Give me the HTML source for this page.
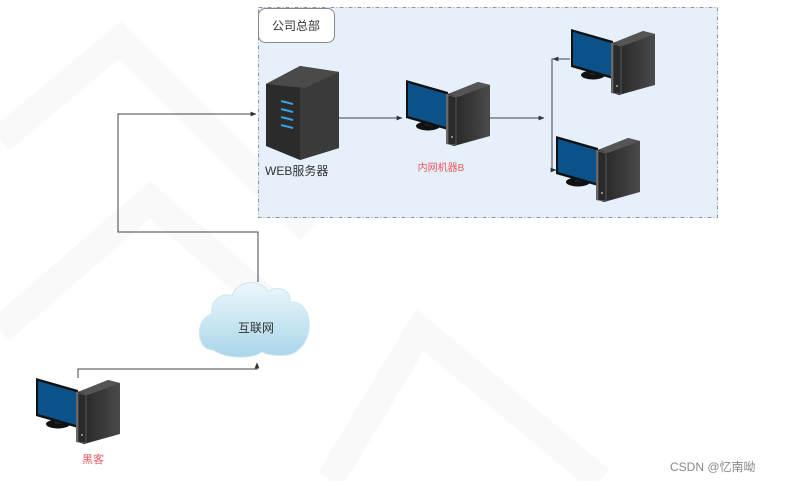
<!DOCTYPE html>
<html><head><meta charset="utf-8"><style>
body{margin:0;width:790px;height:481px;background:#fff;overflow:hidden;font-family:"Liberation Sans","Noto Sans CJK SC",sans-serif}
</style></head><body>
<svg width="790" height="481" viewBox="0 0 790 481" xmlns="http://www.w3.org/2000/svg" font-family="Liberation Sans, Noto Sans CJK SC, sans-serif">
<defs>
<linearGradient id="tw" x1="0" x2="1"><stop offset="0" stop-color="#222"/><stop offset="1" stop-color="#4a4a4a"/></linearGradient>
<linearGradient id="cl" x1="0" y1="0" x2="0" y2="1"><stop offset="0" stop-color="#eef7fc"/><stop offset="1" stop-color="#a9d6ea"/></linearGradient>
<g id="pc">
<ellipse cx="22" cy="46" rx="12" ry="4.5" fill="#111"/>
<rect x="19" y="38" width="6" height="8" fill="#222"/>
<polygon points="0,0 42,12 42,50 0,38" fill="#111"/>
<polygon points="2,3 40,14 40,47 2,36" fill="#0b528a"/>
<polygon points="40,14 50,12 50,66 40,64" fill="#666"/>
<polygon points="42,14 72,2 84,5 84,56 48,66 42,64" fill="url(#tw)"/>
<polygon points="42,14 72,2 84,5 52,17" fill="#555"/>
<polygon points="42,15 50,17 50,65 42,64" fill="#2a2a2a" stroke="#777" stroke-width="0.6"/>
<circle cx="46" cy="57" r="1" fill="#aaa"/>
</g>
<marker id="ar" viewBox="0 0 10 10" refX="9" refY="5" markerWidth="6" markerHeight="6" orient="auto"><path d="M0,1 L10,5 L0,9 z" fill="#333"/></marker>
</defs>
<g fill="none" stroke="#f9f9f9" stroke-width="28">
<path d="M0,140 L120,40 L300,220 L460,60"/>
<path d="M330,480 L420,330 L600,480"/>
<path d="M0,330 L150,200 L300,330"/>
</g>
<rect x="258.5" y="7.5" width="459" height="210" fill="#e6f0fb" stroke="#8a93a0" stroke-dasharray="4,2,1,2"/>
<rect x="258.5" y="8.5" width="76" height="34" rx="7" fill="#fff" stroke="#888"/>
<text x="296" y="30" font-size="12" text-anchor="middle" fill="#333">公司总部</text>
<polygon points="266,84 300,66 339,72 339,148 300,160 266,146" fill="#2b2b2b"/>
<polygon points="300,66 339,72 339,148 300,160" fill="#3a3a3a"/>
<polygon points="266,84 300,66 339,72 305,88" fill="#4a4a4a"/>
<g stroke="#3aa0e0" stroke-width="2"><line x1="281" y1="101" x2="293" y2="104"/><line x1="281" y1="109" x2="293" y2="112"/><line x1="281" y1="117" x2="293" y2="120"/><line x1="281" y1="125" x2="293" y2="128"/></g>
<text x="265" y="175" font-size="12" fill="#333">WEB服务器</text>
<use href="#pc" x="406" y="80"/>
<text x="441" y="171" font-size="10" text-anchor="middle" fill="#e8585f">内网机器B</text>
<use href="#pc" x="571" y="29"/>
<use href="#pc" x="556" y="136"/>
<use href="#pc" x="36" y="378"/>
<text x="93" y="463" font-size="11" text-anchor="middle" fill="#e8585f">黑客</text>
<path d="M213,350 C195,350 195,318 212,314 C210,300 222,292 232,296 C236,280 262,278 268,292 C276,284 292,290 290,302 C312,300 316,336 298,350 C290,358 270,356 262,352 C250,360 225,358 213,350 z" fill="url(#cl)" stroke="#cde6f2"/>
<text x="256" y="332" font-size="12" text-anchor="middle" fill="#333">互联网</text>
<g fill="none" stroke="#444" stroke-width="1">
<path d="M78,378 V369 H257 V363" marker-end="url(#ar)"/>
<path d="M258,282 V232 H118 V114 H256" marker-end="url(#ar)"/>
<path d="M339,118 H402" marker-end="url(#ar)"/>
<path d="M488,118 H544" marker-end="url(#ar)"/>
<path d="M570,59 H552 V170 H555"/>
<path d="M562,59 H553" marker-end="url(#ar)"/>
<path d="M552,170 H556" marker-end="url(#ar)"/>
</g>
<text x="670" y="471" font-size="12" fill="#888">CSDN @忆南呦</text>
</svg>
</body></html>
